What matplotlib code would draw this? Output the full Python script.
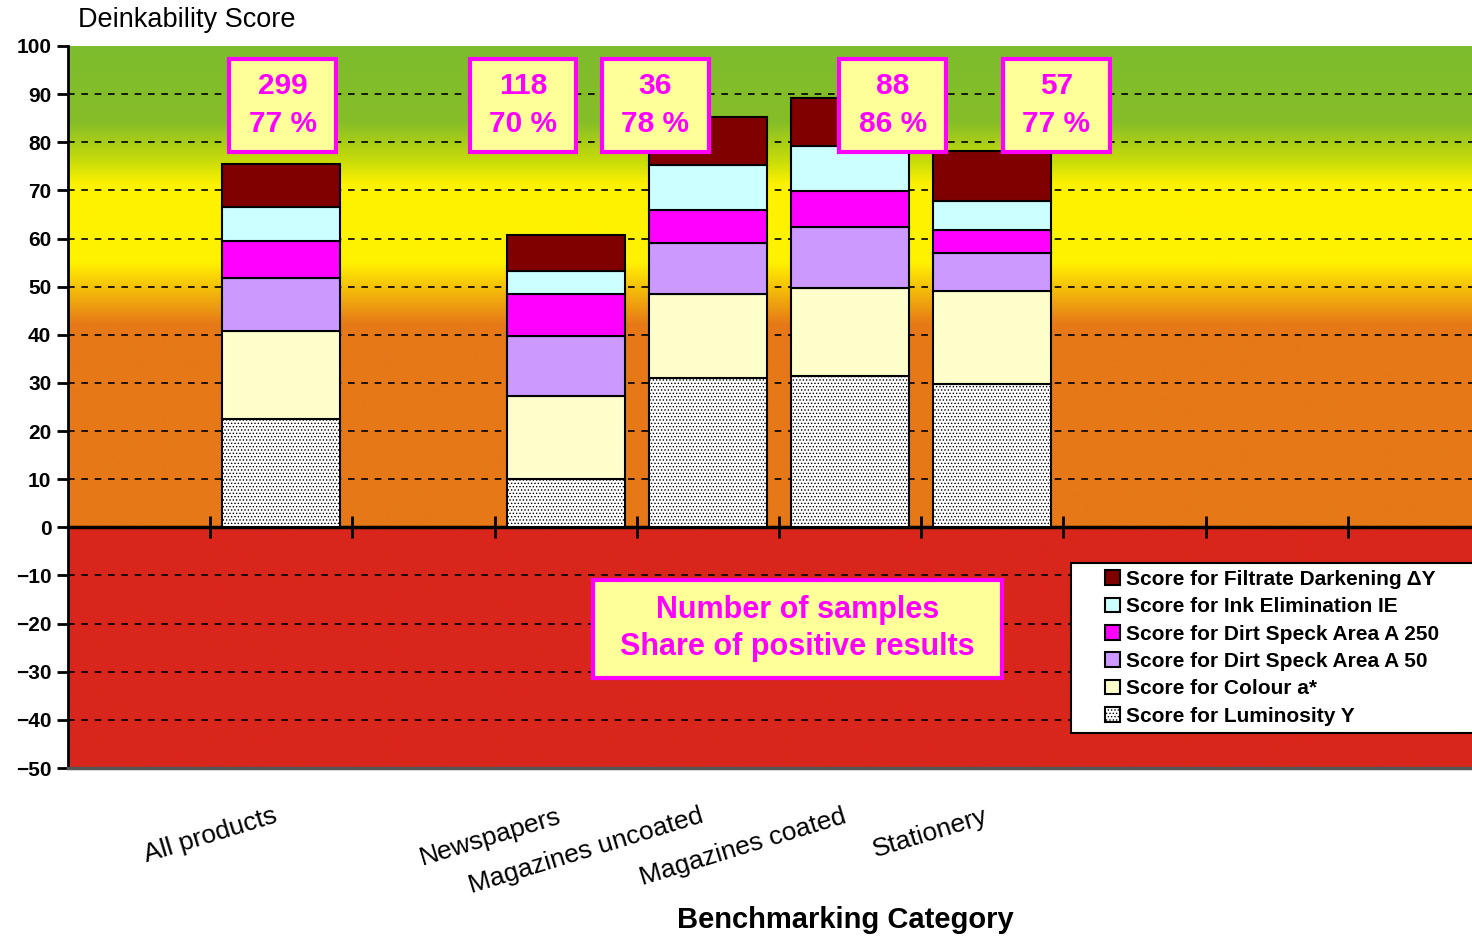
import matplotlib.pyplot as plt
import numpy as np
from matplotlib.colors import to_rgb
from matplotlib.patches import Rectangle

plt.rcParams['font.family'] = ['Liberation Sans', 'DejaVu Sans']
plt.rcParams['hatch.linewidth'] = 0.6

# slots on the category axis (empty strings = empty slots)
categories = ['', 'All products', '', 'Newspapers', 'Magazines uncoated',
              'Magazines coated', 'Stationery', '', '', '']
groups = ['All products', 'Newspapers', 'Magazines uncoated', 'Magazines coated', 'Stationery']

luminosity = [22.5, 10.0, 31.0, 31.5, 29.8]
colour = [18.3, 17.3, 17.5, 18.3, 19.4]
speck_a50 = [11.1, 12.5, 10.5, 12.5, 7.7]
speck_a250 = [7.5, 8.7, 7.0, 7.5, 4.8]
ink_elim = [7.1, 4.8, 9.2, 9.4, 6.2]
filtrate = [8.9, 7.5, 10.0, 10.0, 10.2]

n_samples = [299, 118, 36, 88, 57]
share_pos = [77, 70, 78, 86, 77]
# x position of the sample boxes (slot units)
box_x = [1.01, 2.70, 3.63, 5.30, 6.45]

fig = plt.figure(figsize=(14.72, 9.38), dpi=100)
ax = fig.add_axes([68 / 1472, 1 - 768 / 938, 1422 / 1472, 722 / 938])

# background bands
yy = np.linspace(-50, 100, 1501)
stops_y = [-50, -0.001, 0, 42, 55, 71, 76, 84, 100]
stops_c = ['#D9261C', '#D9261C', '#E67817', '#E67817', '#FFF200', '#FFF200',
           '#C8DC0A', '#86BE28', '#7DBC2D']
rgb = np.array([to_rgb(c) for c in stops_c])
img = np.stack([np.interp(yy, stops_y, rgb[:, k]) for k in range(3)], axis=-1)[:, None, :]
ax.imshow(img, extent=[-0.5, len(categories) - 0.5, -50, 100], origin='lower',
          aspect='auto', zorder=0, interpolation='bilinear')

# grid
for g in range(-40, 100, 10):
    if g != 0:
        ax.axhline(g, color='black', lw=1.2, ls=(0, (4, 4)), zorder=1)

x = np.array([categories.index(g) for g in groups])
series = [
    (luminosity, 'Score for Luminosity Y', 'white', '.....'),
    (colour, 'Score for Colour a*', '#FFFFCC', None),
    (speck_a50, 'Score for Dirt Speck Area A 50', '#CC99FF', None),
    (speck_a250, 'Score for Dirt Speck Area A 250', '#FF00FF', None),
    (ink_elim, 'Score for Ink Elimination IE', '#CCFFFF', None),
    (filtrate, 'Score for Filtrate Darkening \u0394Y', '#800000', None),
]
bottom = np.zeros(len(groups))
handles = []
for vals, lab, col, hat in series:
    b = ax.bar(x, vals, 0.83, bottom=bottom, color=col, edgecolor='black',
               lw=1.5, hatch=hat, label=lab, zorder=3)
    handles.append(b)
    bottom += np.array(vals)


def note(cx, cy, w, h, txt, fs, ls):
    ax.add_patch(Rectangle((cx - w / 2, cy - h / 2), w, h, fc='#FFFF99', ec='#FF00FF',
                           lw=3, zorder=5))
    ax.text(cx, cy, txt, ha='center', va='center', color='#FF00FF', fontsize=fs,
            fontweight='bold', linespacing=ls, zorder=6)


# boxes with sample counts
for bx, n, s in zip(box_x, n_samples, share_pos):
    note(bx, 87.7, 0.75, 19.4, '%d\n%d %%' % (n, s), 21.5, 1.45)

note(4.63, -21.1, 2.88, 20.5, 'Number of samples\nShare of positive results', 22, 1.3)

ax.set_xlim(-0.5, len(categories) - 0.5)
ax.set_ylim(-50, 100)
ax.set_yticks(range(-50, 101, 10))
ax.tick_params(axis='y', direction='out', length=8, width=2, labelsize=15, pad=4)
for t in ax.get_yticklabels():
    t.set_fontweight('bold')

ax.set_xticks(np.arange(len(categories) - 1) + 0.5)
ax.set_xticklabels([])
ax.tick_params(axis='x', direction='inout', length=16, width=2)

ax.spines['bottom'].set_position(('data', 0))
ax.spines['bottom'].set_linewidth(2.5)
ax.spines['left'].set_linewidth(2)
ax.spines['top'].set_visible(False)
ax.spines['right'].set_visible(False)
ax.axhline(-50, color='#555555', lw=2.5, zorder=4, clip_on=False)

# category labels below the plot
for xi, g in zip(x, groups):
    ax.text(xi - 0.06, -57.5, g, rotation=17, rotation_mode='anchor', ha='right',
            va='top', fontsize=19)

fig.text(78 / 1472, 1 - 20 / 938, 'Deinkability Score', fontsize=19.5, va='center')
fig.text(845 / 1472, 1 - 920 / 938, 'Benchmarking Category', fontsize=21,
         fontweight='bold', ha='center', va='center')

# legend with a frame running off the right edge
fig.patches.append(Rectangle((1071 / 1472, 1 - 733 / 938), 0.3, 170 / 938,
                             transform=fig.transFigure, fc='white', ec='black',
                             lw=1.5, zorder=4))
fig.legend(handles[::-1], [h.get_label() for h in handles[::-1]],
           loc='upper left', bbox_to_anchor=(1105 / 1472, 1 - 570 / 938),
           frameon=False, handlelength=0.7, handleheight=0.7, handletextpad=0.3,
           labelspacing=0.4, borderpad=0, borderaxespad=0,
           prop={'size': 15, 'weight': 'bold'})

fig.savefig('out.png', dpi=100)
